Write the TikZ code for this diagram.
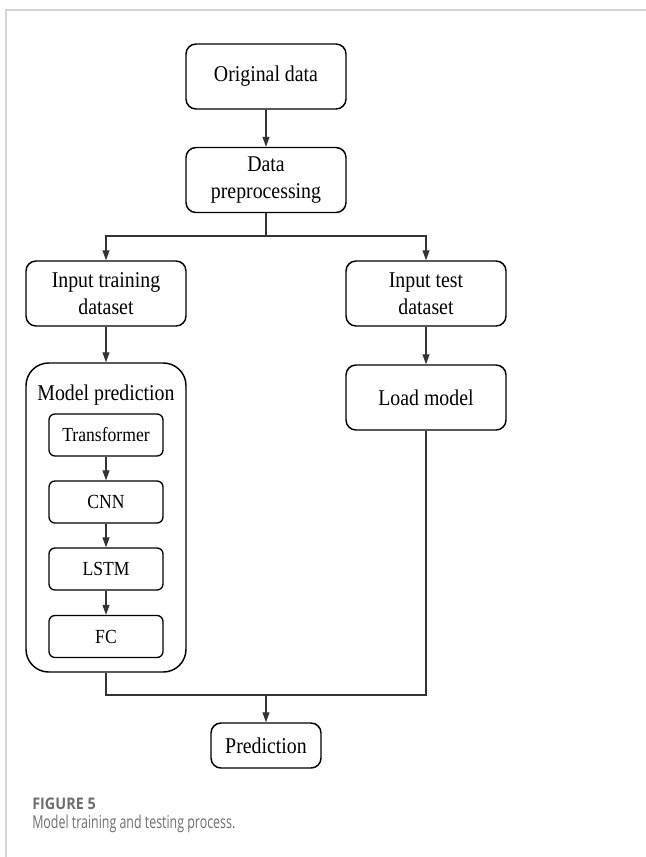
\documentclass[tikz,border=0pt]{standalone}
\usepackage{fontspec}
\usetikzlibrary{arrows.meta}
\newfontfamily\boxfont[FakeStretch=0.88]{Liberation Serif}
\newfontfamily\capfont[FakeStretch=0.7]{Open Sans}
\newfontfamily\captitlefont[FakeStretch=0.9]{Open Sans}
\definecolor{frameg}{HTML}{D4D4D4}
\definecolor{capg}{HTML}{6E6E6E}
\definecolor{lineg}{HTML}{333333}
\tikzset{
  mainbox/.style={draw=black, line width=1.1pt, rounded corners=7.5pt, inner sep=0pt,
    minimum width=120pt, minimum height=48.75pt, align=center,
    font=\boxfont\fontsize{16.9pt}{20.5pt}\selectfont},
  subbox/.style={draw=black, line width=1pt, rounded corners=4.5pt, inner sep=0pt,
    minimum width=85.5pt, minimum height=31.5pt, align=center,
    font=\boxfont\fontsize{15pt}{18pt}\selectfont},
  bigbox/.style={draw=black, line width=1.1pt, rounded corners=17pt, inner sep=0pt,
    minimum width=120pt, minimum height=231.75pt},
  conn/.style={draw=lineg, line width=0.8pt},
  arr/.style={conn, -{Triangle[length=7.5pt,width=5.25pt]}},
  captitle/.style={anchor=base west, inner sep=0pt, text=capg, font=\captitlefont\bfseries\fontsize{12pt}{14pt}\selectfont},
  captext/.style={anchor=base west, inner sep=0pt, text=capg, font=\capfont\fontsize{13.3pt}{16pt}\selectfont},
}
\begin{document}
\begin{tikzpicture}[x=0.75pt, y=-0.75pt]
\useasboundingbox (0,0) rectangle (646,857);
% page frame
\draw[frameg, line width=0.9pt] (6,857) -- (6,10) -- (646,10);

% nodes
\node[mainbox] (orig) at (266,76.5) {Original data};
\node[mainbox] (prep) at (266,180) {Data\\preprocessing};
\node[mainbox] (train) at (106,293.5) {Input training\\dataset};
\node[mainbox] (test) at (426,293.5) {Input test\\dataset};
\node[bigbox] (mp) at (106,517.5) {};
\node[anchor=base, inner sep=0pt, font=\boxfont\fontsize{16.9pt}{20.5pt}\selectfont] (mptitle) at (106,400) {Model prediction};
\node[subbox] (trans) at (106,435) {Transformer};
\node[subbox] (cnn) at (106,502) {CNN};
\node[subbox] (lstm) at (106,569) {LSTM};
\node[subbox] (fc) at (106,636.5) {FC};
\node[mainbox] (load) at (426,397.5) {Load model};
\node[mainbox, minimum width=82.5pt, minimum height=33.75pt] (pred) at (266,745.5) {Prediction};

\coordinate (split) at (266,236);
\coordinate (merge) at (266,695);

% connectors
\draw[arr] (orig) -- (prep);
\draw[conn] (prep.south) -- (split);
\draw[arr] (split) -| (train.north);
\draw[arr] (split) -| (test.north);
\draw[arr] (train) -- (mp);
\draw[arr] (test) -- (load);
\draw[arr] (trans) -- (cnn);
\draw[arr] (cnn) -- (lstm);
\draw[arr] (lstm) -- (fc);
\draw[conn] (mp.south) |- (merge);
\draw[conn] (load.south) |- (merge);
\draw[arr] (merge) -- (pred);

% caption
\node[captitle] (figlabel) at (32,809) {FIGURE 5};
\node[captext] (figcap) at (32,828) {Model training and testing process.};
\end{tikzpicture}
\end{document}
